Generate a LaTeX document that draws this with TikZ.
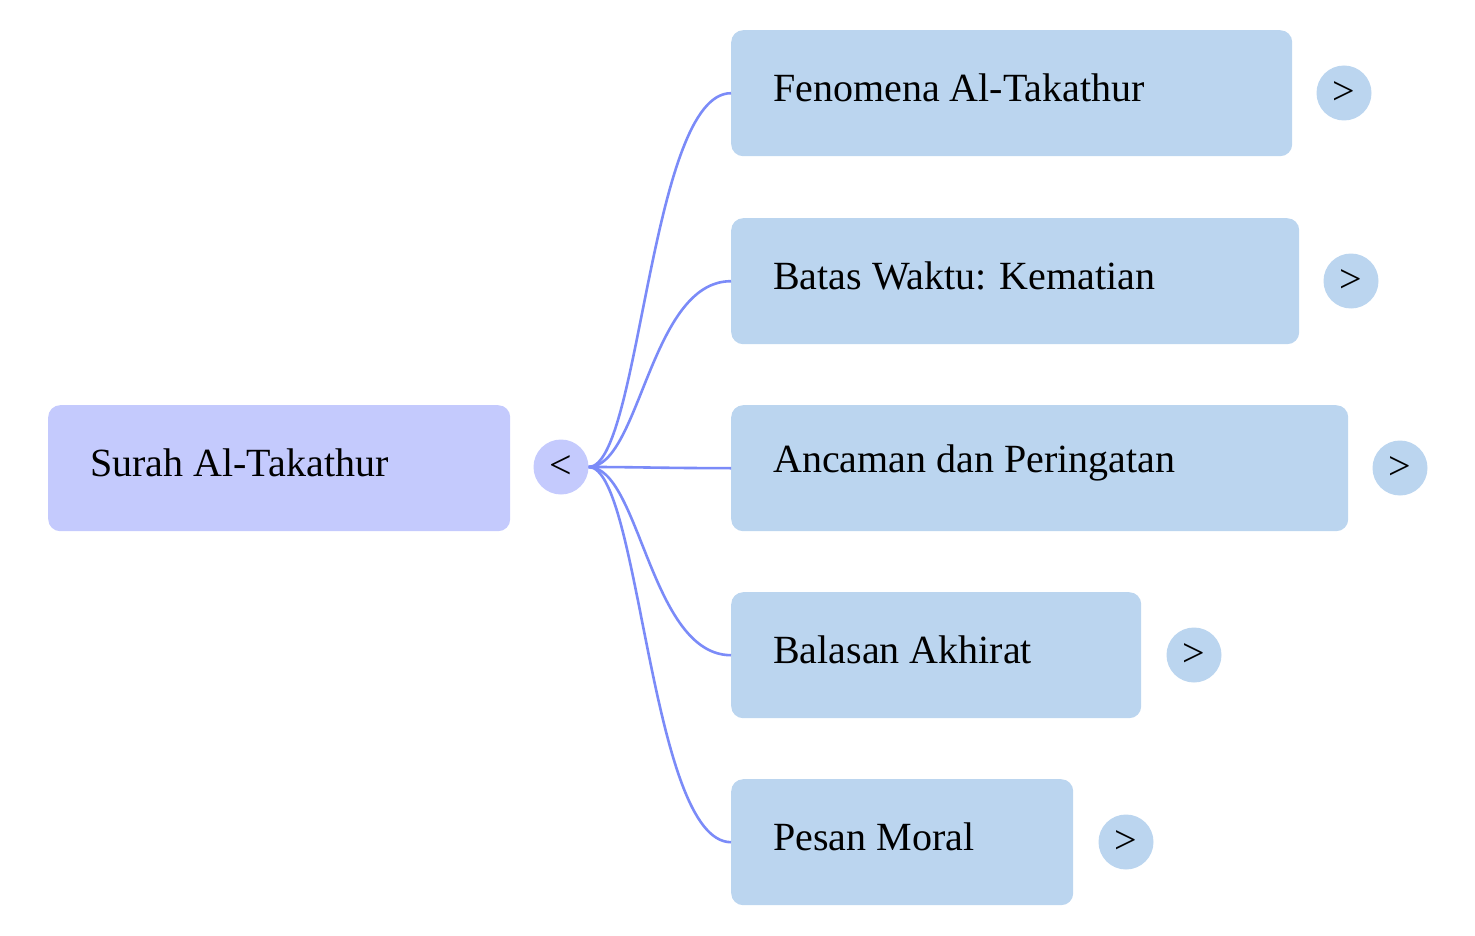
\documentclass[tikz,border=0pt]{standalone}
\usepackage{fontspec}
\setmainfont{Liberation Serif}
\begin{document}
\begin{tikzpicture}[x=1pt,y=-1pt,
  box/.style={rounded corners=12pt,minimum height=126pt,inner sep=0pt,anchor=north west,text height=24pt,text depth=7pt,font=\fontsize{40}{40}\selectfont},
  root/.style={box,fill=lav},
  child/.style={box,fill=sky},
  btn/.style={circle,minimum size=55pt,inner sep=0pt,font=\fontsize{40}{40}\selectfont},
  edge/.style={draw=edgec,line width=2.6pt}]
\definecolor{lav}{HTML}{C4CAFD}
\definecolor{sky}{HTML}{BBD5EF}
\definecolor{edgec}{HTML}{7B8BF8}
\useasboundingbox (0,0) rectangle (1475,936);
\node[root,minimum width=462pt] (r) at (48,405) {};
\node[anchor=west,font=\fontsize{40}{40}\selectfont,inner sep=0pt] (rt) at (90,463) {Surah Al-Takathur};
\node[btn,fill=lav] (rc) at (561,467) {<};
\foreach \n/\y/\w/\t/\cx in {a/30/561/Fenomena Al-Takathur/1344, b/218/568/Batas Waktu: Kematian/1351, c/405/617/Ancaman dan Peringatan/1400, d/592/410/Balasan Akhirat/1194, e/779/342/Pesan Moral/1126}{
  \node[child,minimum width=\w pt] (\n) at (731,\y) {};
  \node[anchor=west,font=\fontsize{40}{40}\selectfont,inner sep=0pt] (\n t) at (773,\y+58) {\t};
  \node[btn,fill=sky] (\n c) at (\cx,\y+63) {>};
  \draw[edge] (rc.east) .. controls (640,467) and (650,\y+63) .. (\n.west);
}
\end{tikzpicture}
\end{document}
